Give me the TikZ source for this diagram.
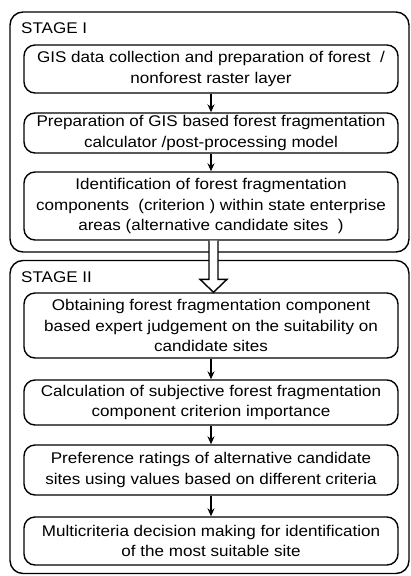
\documentclass[tikz,border=0pt]{standalone}
\usepackage{fontspec}
\setmainfont{Liberation Sans}[FakeStretch=1.1]
\usetikzlibrary{calc,arrows.meta}
\begin{document}
\begin{tikzpicture}[x=1pt,y=-1pt,
  stagebox/.style={draw,line width=1.4pt,rounded corners=13pt,inner sep=0pt,anchor=center},
  stepbox/.style={draw,line width=1.4pt,rounded corners=11pt,inner sep=0pt,align=center,
    font=\fontsize{15.5}{20.5}\selectfont,minimum width=374pt,anchor=center},
  flow/.style={line width=1.3pt,-{Stealth[length=8pt,width=7pt]}},
  lbl/.style={font=\fontsize{15.5}{17}\selectfont,anchor=west,inner sep=0pt}]
\useasboundingbox (0,0) rectangle (411,576);
\node[stagebox,minimum width=399pt,minimum height=240pt] (s1) at (209.5,132) {};
\node[stagebox,minimum width=399pt,minimum height=313pt] (s2) at (209.5,417) {};
\node[lbl] (l1) at (21,28) {STAGE I};
\node[lbl] (l2) at (21,277) {STAGE II};
\node[stepbox,minimum height=48pt] (b1) at (211,69) {GIS data collection and preparation of forest \ /\\nonforest raster layer};
\node[stepbox,minimum height=40pt] (b2) at (211,133) {Preparation of GIS based forest fragmentation\\calculator /post-processing model};
\node[stepbox,minimum height=68pt] (b3) at (211,206) {Identification of forest fragmentation\\components \ (criterion ) within state enterprise\\areas (alternative candidate sites \ )};
\node[stepbox,minimum height=65pt] (b4) at (211,325.5) {Obtaining forest fragmentation component\\based expert judgement on the suitability on\\candidate sites};
\node[stepbox,minimum height=45pt] (b5) at (211,402.5) {Calculation of subjective forest fragmentation\\component criterion importance};
\node[stepbox,minimum height=50pt] (b6) at (211,470) {Preference ratings of alternative candidate\\sites using values based on different criteria};
\node[stepbox,minimum height=48pt] (b7) at (211,541) {Multicriteria decision making for identification\\of the most suitable site};
\draw[flow] (b1) -- (b2);
\draw[flow] (b2) -- (b3);
\draw[flow] (b4) -- (b5);
\draw[flow] (b5) -- (b6);
\draw[flow] (b6) -- (b7);
\coordinate (at) at ($(b3.south)+(2.5,0)$);
\coordinate (ab) at ($(b4.north)+(2.5,0)$);
\draw[line width=1.4pt,fill=white,line join=miter]
  ($(at)+(-4.5,0)$) -- ($(ab)+(-4.5,-13)$) -- ($(ab)+(-13.5,-13)$) -- (ab)
  -- ($(ab)+(13.5,-13)$) -- ($(ab)+(4.5,-13)$) -- ($(at)+(4.5,0)$);
\end{tikzpicture}
\end{document}
